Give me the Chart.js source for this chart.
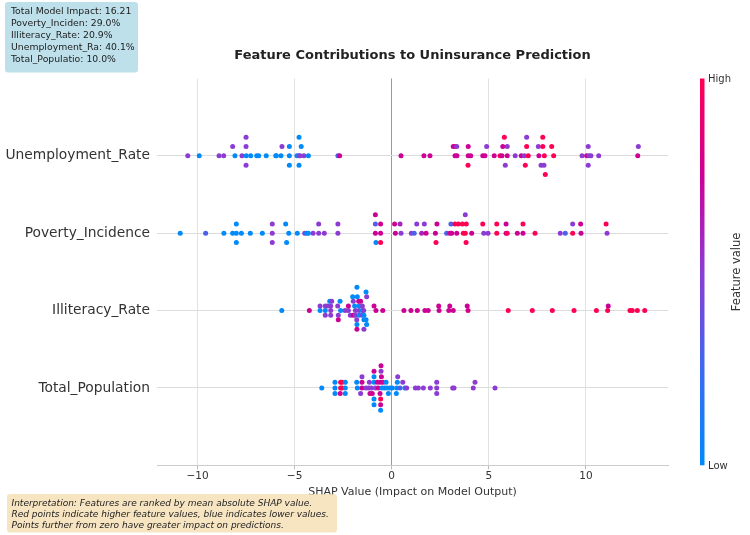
<!DOCTYPE html>
<html>
<head>
<meta charset="utf-8">
<script src="https://cdn.jsdelivr.net/npm/chart.js@4.4.1/dist/chart.umd.min.js"></script>
<style>
  html, body { margin: 0; padding: 0; background: #fff; }
  canvas { display: block; }
</style>
</head>
<body>
<canvas id="chart" width="750" height="535"></canvas>
<script>
// rows from bottom (y = 0) to top (y = 3)
const features = ['Total_Population', 'Illiteracy_Rate', 'Poverty_Incidence', 'Unemployment_Rate'];
const xTicks = [-10, -5, 0, 5, 10];

// each point: [shap value, beeswarm stack index, feature value 0..1]
const unemploymentPts = [
  [-10.50,0,.5],[-9.91,0,0],[-8.89,0,.5],[-8.65,0,.5],[-8.07,0,0],[-7.71,0,.5],[-7.49,0,0],[-7.26,0,0],
  [-6.95,0,0],[-6.85,0,0],[-6.46,0,0],[-5.97,0,0],[-5.94,0,0],[-5.70,0,0],[-5.27,0,0],[-4.88,0,0],
  [-4.79,0,.3],[-4.72,0,.5],[-4.52,0,.5],[-4.29,0,0],[-2.77,0,.3],[-2.68,0,.75],[0.48,0,.75],[1.66,0,.75],
  [1.97,0,.75],[3.26,0,.75],[3.36,0,.75],[3.94,0,.75],[4.07,0,.75],[4.69,0,.75],[4.80,0,.75],[5.28,0,.75],
  [5.58,0,1],[5.68,0,.75],[5.95,0,.75],[6.36,0,.5],[6.67,0,.75],[6.83,0,.5],[7.03,0,1],[7.58,0,.75],
  [7.86,0,1],[8.34,0,1],[9.80,0,.5],[10.04,0,.75],[10.16,0,.5],[10.26,0,.5],[10.66,0,.5],[12.67,0,.75],
  [-8.19,1,.5],[-7.50,1,.5],[-5.65,1,.5],[-5.27,1,0],[-4.66,1,0],[3.17,1,.75],[3.26,1,.75],[3.35,1,.5],
  [3.94,1,.75],[4.89,1,.5],[5.72,1,.75],[5.95,1,.5],[6.95,1,1],[7.55,1,.5],[7.78,1,1],[8.24,1,1],
  [10.12,1,.5],[12.70,1,.5],
  [-7.50,2,.5],[-4.77,2,0],[5.80,2,1],[6.95,2,.5],[7.78,2,1],
  [-7.50,-1,.5],[-5.27,-1,0],[-4.77,-1,0],[3.93,-1,1],[5.85,-1,.5],[6.88,-1,1],[7.69,-1,.5],[7.84,-1,.5],
  [10.12,-1,.5],
  [7.91,-2,1]
];

const povertyPts = [
  [-10.89,0,0],[-9.58,0,.3],[-8.64,0,0],[-8.19,0,0],[-8.00,0,0],[-7.74,0,0],[-7.28,0,0],[-6.66,0,0],
  [-6.15,0,.5],[-5.30,0,0],[-4.86,0,0],[-4.48,0,.5],[-4.38,0,0],[-4.29,0,0],[-4.05,0,.5],[-3.76,0,.5],
  [-3.47,0,.5],[-2.77,0,.5],[-0.84,0,.75],[-0.57,0,.75],[0.19,0,.75],[0.48,0,.5],[1.01,0,.5],[1.16,0,.3],
  [1.54,0,.6],[1.77,0,.75],[2.25,0,.75],[2.83,0,.3],[3.00,0,.75],[3.09,0,.75],[3.35,0,.75],[3.69,0,1],
  [3.79,0,1],[4.12,0,.75],[4.74,0,.5],[4.96,0,.5],[5.41,0,1],[5.89,0,.75],[5.95,0,1],[6.47,0,.75],
  [6.76,0,.75],[7.38,0,1],[8.68,0,.5],[8.94,0,.3],[9.32,0,1],[9.75,0,.75],[11.09,0,.5],
  [-8.00,1,0],[-6.15,1,.5],[-5.46,1,0],[-3.76,1,.5],[-2.77,1,.5],[-0.84,1,.3],[-0.57,1,.75],[0.15,1,.75],
  [0.43,1,.6],[1.29,1,.5],[1.68,1,.5],[2.33,1,.75],[3.05,1,.3],[3.26,1,1],[3.43,1,1],[3.64,1,1],
  [3.84,1,1],[4.69,1,1],[5.41,1,1],[5.89,1,.75],[6.76,1,1],[9.32,1,.5],[9.73,1,.75],[11.04,1,1],
  [-0.84,2,.75],[3.79,2,.5],
  [-8.00,-1,0],[-6.15,-1,.5],[-5.41,-1,0],[-0.81,-1,0],[-0.57,-1,1],[2.28,-1,1],[3.83,-1,1]
];

const illiteracyPts = [
  [-5.66,0,0],[-4.24,0,.75],[-3.69,0,0],[-3.42,0,0],[-3.14,0,.5],[-2.63,0,0],[-2.40,0,.5],[-2.23,0,.5],
  [-1.87,0,.5],[-1.68,0,.5],[-1.51,0,0],[-1.44,0,.5],[-0.81,0,.75],[-0.46,0,.75],[0.63,0,.75],[0.99,0,.75],
  [1.32,0,.75],[1.71,0,.75],[1.88,0,.75],[2.44,0,.75],[2.94,0,.75],[3.17,0,.75],[3.93,0,.8],[6.00,0,1],
  [7.24,0,1],[8.27,0,1],[9.39,0,1],[10.54,0,1],[11.12,0,1],[12.27,0,1],[12.39,0,1],[12.65,0,1],[13.03,0,1],
  [-3.69,1,.5],[-3.42,1,.5],[-3.30,1,.5],[-3.14,1,.5],[-2.78,1,.5],[-2.23,1,.75],[-1.91,1,0],[-1.68,1,0],
  [-1.51,1,.5],[-0.91,1,.75],[2.42,1,.75],[2.99,1,.75],[3.89,1,.75],[11.15,1,.75],
  [-3.19,2,0],[-3.09,2,.5],[-2.66,2,0],[-1.98,2,.5],[-1.70,2,.75],[-1.60,2,.75],
  [-2.01,3,0],[-1.77,3,0],[-1.29,3,.5],
  [-1.32,4,0],
  [-1.79,5,0],
  [-3.42,-1,.5],[-3.14,-1,.5],[-2.75,-1,.5],[-2.13,-1,.5],[-1.98,-1,.75],[-1.87,-1,.5],[-1.68,-1,0],
  [-1.51,-1,.5],[-1.43,-1,0],
  [-2.75,-2,.75],[-1.80,-2,.5],[-1.43,-2,0],[-1.32,-2,0],
  [-1.79,-3,0],[-1.29,-3,0],
  [-1.79,-4,.75],[-1.43,-4,.5]
];

const populationPts = [
  [-3.60,0,0],[-2.92,0,0],[-2.63,0,1],[-2.56,0,1],[-2.39,0,0],[-1.77,0,0],[-1.53,0,.75],[-1.32,0,.5],
  [-1.18,0,.5],[-1.05,0,.5],[-0.84,0,.5],[-0.69,0,.75],[-0.50,0,0],[-0.36,0,0],[-0.23,0,0],[-0.09,0,0],
  [0.03,0,0],[0.26,0,0],[0.43,0,.3],[0.68,0,0],[0.77,0,.5],[1.22,0,.5],[1.37,0,.5],[1.63,0,.5],
  [1.99,0,.5],[2.32,0,.5],[3.14,0,.5],[3.21,0,.5],[4.20,0,.5],[5.32,0,.5],
  [-2.92,1,0],[-2.63,1,1],[-2.56,1,1],[-2.39,1,0],[-1.80,1,0],[-1.53,1,.75],[-1.15,1,.5],[-0.91,1,0],
  [-0.74,1,.75],[-0.59,1,.75],[-0.45,1,.75],[-0.29,1,0],[0.29,1,0],[0.57,1,.5],[2.32,1,.5],[4.29,1,.5],
  [-1.53,2,.5],[-0.91,2,0],[-0.53,2,.75],[0.31,2,.5],
  [-0.91,3,.75],[-0.55,3,.5],
  [-0.55,4,.75],
  [-2.92,-1,0],[-2.65,-1,.75],[-2.39,-1,0],[-1.60,-1,.5],[-1.12,-1,.75],[-1.00,-1,.75],[-0.60,-1,.75],
  [-0.17,-1,0],[0.24,-1,0],[2.32,-1,.5],
  [-0.91,-2,0],[-0.57,-2,1],
  [-0.91,-3,0],[-0.57,-3,.75],
  [-0.57,-4,0]
];

const rowPoints = [populationPts, illiteracyPts, povertyPts, unemploymentPts];

const infoLines = [
  'Total Model Impact: 16.21',
  'Poverty_Inciden: 29.0%',
  'Illiteracy_Rate: 20.9%',
  'Unemployment_Ra: 40.1%',
  'Total_Populatio: 10.0%'
];
const noteLines = [
  'Interpretation: Features are ranked by mean absolute SHAP value.',
  'Red points indicate higher feature values, blue indicates lower values.',
  'Points further from zero have greater impact on predictions.'
];

// shap-like blue -> red colour map
const cmapStops = [
  [0, [0, 138, 250]],
  [0.25, [60, 105, 240]],
  [0.5, [140, 60, 210]],
  [0.75, [205, 0, 150]],
  [1, [255, 0, 82]]
];
function cmap(t) {
  t = Math.max(0, Math.min(1, t));
  for (let i = 1; i < cmapStops.length; i++) {
    const [t1, c1] = cmapStops[i];
    const [t0, c0] = cmapStops[i - 1];
    if (t <= t1) {
      const f = (t - t0) / (t1 - t0);
      const c = c0.map((v, k) => Math.round(v + (c1[k] - v) * f));
      return `rgb(${c[0]},${c[1]},${c[2]})`;
    }
  }
  return 'rgb(255,0,82)';
}

// beeswarm: same row height rule as shap (0.9 * 0.4 / (max layer + 1))
const datasets = rowPoints.map((pts, row) => {
  const maxLayer = Math.max(...pts.map(p => p[1]));
  const step = 0.9 * 0.4 / (maxLayer + 1);
  return {
    data: pts.map(p => ({ x: p[0], y: row + p[1] * step })),
    backgroundColor: pts.map(p => cmap(p[2])),
    borderWidth: 0,
    pointRadius: 2.5,
    pointHoverRadius: 2.5
  };
});

const FONT = "'DejaVu Sans', 'Liberation Sans', sans-serif";

const extras = {
  id: 'extras',
  afterDraw(chart) {
    const ctx = chart.ctx;
    const area = chart.chartArea;
    ctx.save();

    // title
    ctx.fillStyle = '#222';
    ctx.font = `bold 13px ${FONT}`;
    ctx.textAlign = 'center';
    ctx.textBaseline = 'middle';
    ctx.fillText('Feature Contributions to Uninsurance Prediction', (area.left + area.right) / 2, 56);

    // x axis title
    ctx.fillStyle = '#333';
    ctx.font = `11px ${FONT}`;
    ctx.fillText('SHAP Value (Impact on Model Output)', (area.left + area.right) / 2, 492);

    // colour bar
    const cbX = 700, cbW = 4.5;
    const grad = ctx.createLinearGradient(0, area.bottom, 0, area.top);
    for (let i = 0; i <= 20; i++) grad.addColorStop(i / 20, cmap(i / 20));
    ctx.fillStyle = grad;
    ctx.fillRect(cbX, area.top, cbW, area.bottom - area.top);
    ctx.fillStyle = '#333';
    ctx.font = `10px ${FONT}`;
    ctx.textAlign = 'left';
    ctx.fillText('High', cbX + 8, area.top + 1);
    ctx.fillText('Low', cbX + 8, area.bottom + 1);
    ctx.save();
    ctx.translate(737, (area.top + area.bottom) / 2);
    ctx.rotate(-Math.PI / 2);
    ctx.textAlign = 'center';
    ctx.font = `11.5px ${FONT}`;
    ctx.fillText('Feature value', 0, 0);
    ctx.restore();

    // info box (top left)
    ctx.fillStyle = 'rgba(173,216,230,0.8)';
    ctx.beginPath();
    ctx.roundRect(5, 2, 133, 70.5, 3);
    ctx.fill();
    ctx.fillStyle = '#222';
    ctx.font = `9.3px ${FONT}`;
    ctx.textAlign = 'left';
    infoLines.forEach((t, i) => ctx.fillText(t, 11, 11.5 + i * 12));

    // interpretation box (bottom left)
    ctx.fillStyle = 'rgba(245,222,179,0.8)';
    ctx.beginPath();
    ctx.roundRect(7, 494, 330, 38.5, 3);
    ctx.fill();
    ctx.fillStyle = '#222';
    ctx.font = `italic 9px ${FONT}`;
    noteLines.forEach((t, i) => ctx.fillText(t, 11.5, 503.5 + i * 11.3));

    ctx.restore();
  }
};

new Chart(document.getElementById('chart'), {
  type: 'scatter',
  data: { datasets },
  options: {
    responsive: false,
    animation: false,
    devicePixelRatio: 1,
    layout: { padding: { left: 0, right: 82, top: 78.5, bottom: 0 } },
    plugins: { legend: { display: false }, tooltip: { enabled: false } },
    scales: {
      x: {
        type: 'linear',
        min: -12.085,
        max: 14.228,
        afterBuildTicks: s => { s.ticks = xTicks.map(v => ({ value: v })); },
        afterFit: s => { s.height = 69.7; },
        grid: {
          color: c => (c.tick && c.tick.value === 0) ? '#999999' : '#e2e2e2',
          lineWidth: 1,
          tickLength: 4,
          tickColor: '#bbbbbb'
        },
        border: { display: true, color: '#cccccc' },
        ticks: {
          color: '#333',
          font: { family: FONT, size: 10.5 },
          padding: 1,
          callback: v => v < 0 ? '\u2212' + Math.abs(v) : String(v)
        }
      },
      y: {
        type: 'linear',
        min: -1,
        max: 4,
        afterBuildTicks: s => { s.ticks = features.map((f, i) => ({ value: i })); },
        afterFit: s => { s.width = 157; },
        grid: { color: '#dcdcdc', lineWidth: 1, drawTicks: false },
        border: { display: false },
        ticks: {
          color: '#333',
          font: { family: FONT, size: 13.8 },
          padding: 7,
          callback: v => features[v]
        }
      }
    }
  },
  plugins: [extras]
});
</script>
</body>
</html>
